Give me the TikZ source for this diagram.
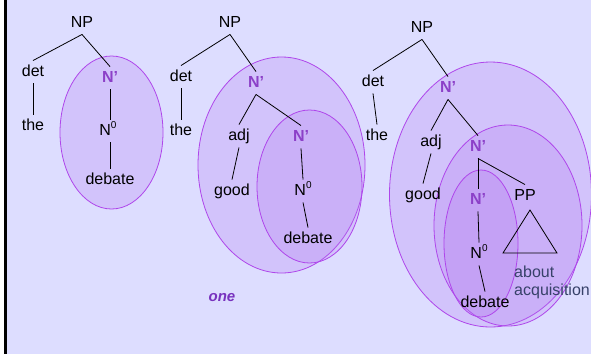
\documentclass[tikz,border=0pt]{standalone}
\usepackage{fontspec}
\setmainfont{Liberation Sans}
\definecolor{bgc}{RGB}{221,221,255}
\definecolor{nbarc}{RGB}{140,64,200}
\definecolor{bubstroke}{RGB}{175,70,235}
\definecolor{bubfill}{RGB}{180,120,240}
\definecolor{ppc}{RGB}{55,65,105}
\definecolor{onec}{RGB}{120,50,190}
\newcommand{\Nzero}{N\raisebox{0.42em}{\fontsize{10}{10}\selectfont 0}}
\begin{document}
\begin{tikzpicture}[x=1pt,y=-1pt,
  lbl/.style={font=\fontsize{16}{16}\selectfont, text height=12pt, text depth=3.5pt, inner sep=3.5pt},
  nbar/.style={lbl, font=\fontsize{16}{16}\selectfont\bfseries, text=nbarc},
  edge/.style={draw=black, line width=0.8pt},
  bubble/.style={draw=bubstroke, fill=bubfill, fill opacity=0.25, line width=0.8pt},
  ppl/.style={font=\fontsize{16}{16}\selectfont, text=ppc, inner sep=0pt, anchor=base west}]
\useasboundingbox (0,0) rectangle (591,354);
\fill[white] (0,0) rectangle (591,354);
\fill[black] (4,0) rectangle (7,354);
\fill[bgc] (7,0) rectangle (591,354);

% bubbles
\draw[bubble] (111.5,132.5) ellipse [x radius=51.5, y radius=76.5];
\draw[bubble] (281.5,165) ellipse [x radius=83.5, y radius=108];
\draw[bubble] (309.5,186.5) ellipse [x radius=52.5, y radius=76.5];
\begin{scope}
\clip (7,0) rectangle (591,354);
\draw[bubble] (490.5,194.5) ellipse [x radius=101, y radius=132.5];
\end{scope}
\draw[bubble] (508,225.5) ellipse [x radius=74, y radius=100.5];
\draw[bubble] (481,243.5) ellipse [x radius=37, y radius=73.5];

% tree 1
\node[lbl] (np1) at (82,23) {NP};
\node[lbl] (det1) at (33,72) {det};
\node[lbl] (the1) at (33,126) {the};
\node[nbar] (nb1) at (110,78) {N’};
\node[lbl] (nz1) at (108,131) {\Nzero};
\node[lbl] (deb1) at (110,180) {debate};
\draw[edge] (np1.south) -- (det1.north);
\draw[edge] (np1.south) -- (nb1.north);
\draw[edge] (det1.south) -- (the1.north);
\draw[edge] (nb1.south) -- (nb1.south |- nz1.north);
\draw[edge] (nb1.south |- nz1.south) -- (nb1.south |- deb1.north);

% tree 2
\node[lbl] (np2) at (230,23) {NP};
\node[lbl] (det2) at (181,77) {det};
\node[lbl] (the2) at (181,131) {the};
\node[nbar] (nb2) at (256,83) {N’};
\node[lbl] (adj2) at (239,136) {adj};
\node[lbl] (good2) at (232,191) {good};
\node[nbar] (nb2b) at (301,137) {N’};
\node[lbl] (nz2) at (303,191) {\Nzero};
\node[lbl] (deb2) at (308,239) {debate};
\draw[edge] (np2.south) -- (det2.north);
\draw[edge] (np2.south) -- (nb2.north);
\draw[edge] (det2.south) -- (the2.north);
\draw[edge] (nb2.south) -- (adj2.north);
\draw[edge] (nb2.south) -- (nb2b.north);
\draw[edge] (adj2.south) -- (good2.north);
\draw[edge] (nb2b.south) -- (nz2.north);
\draw[edge] (nz2.south) -- (deb2.north);
\node[font=\fontsize{15}{15}\selectfont\bfseries\itshape, text=onec] (one) at (222,298) {one};

% tree 3
\node[lbl] (np3) at (422,28) {NP};
\node[lbl] (det3) at (373,82) {det};
\node[lbl] (the3) at (377,136) {the};
\node[nbar] (nb3) at (448,88) {N’};
\node[lbl] (adj3) at (431,142) {adj};
\node[lbl] (good3) at (423,195) {good};
\node[nbar] (nb3b) at (478,147) {N’};
\node[nbar] (nb3c) at (478,200) {N’};
\node[lbl] (pp3) at (525,196) {PP};
\node[lbl] (nz3) at (479,254) {\Nzero};
\node[lbl] (deb3) at (485,303) {debate};
\draw[edge] (np3.south) -- (det3.north);
\draw[edge] (np3.south) -- (nb3.north);
\draw[edge] (det3.south) -- (the3.north);
\draw[edge] (nb3.south) -- (adj3.north);
\draw[edge] (nb3.south) -- (nb3b.north);
\draw[edge] (adj3.south) -- (good3.north);
\draw[edge] (nb3b.south) -- (nb3c.north);
\draw[edge] (nb3b.south) -- (pp3.north);
\draw[edge] (nb3c.south) -- (nz3.north);
\draw[edge] (nz3.south) -- (deb3.north);
\coordinate (tria) at (530,210);
\coordinate (tril) at (503,253);
\coordinate (trir) at (557,253);
\draw[edge] (tria) -- (tril) -- (trir) -- cycle;
\node[ppl] (about) at (514,277) {about};
\node[ppl] (acq) at (514,295) {acquisition};
\end{tikzpicture}
\end{document}
